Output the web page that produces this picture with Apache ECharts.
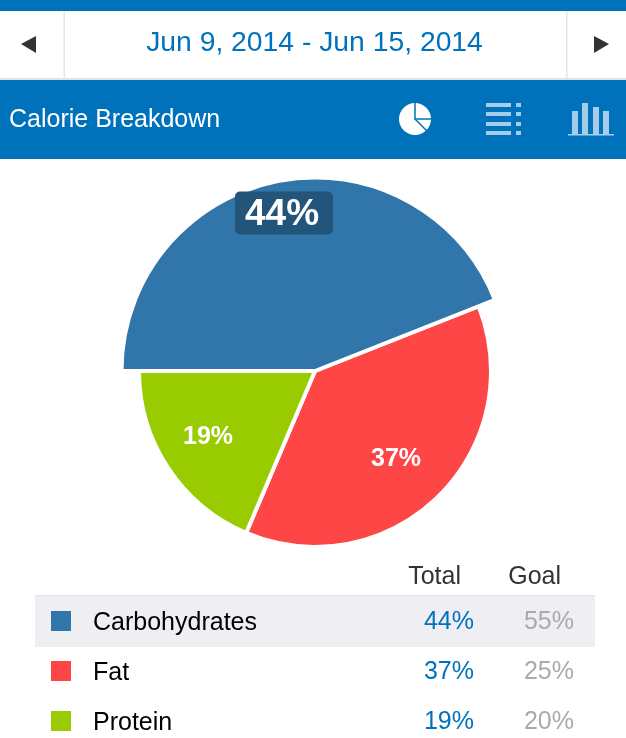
<!DOCTYPE html>
<html>
<head>
<meta charset="utf-8">
<style>
html, body { margin: 0; padding: 0; background: #fff; overflow: hidden; }
#main { width: 626px; height: 738px; }
</style>
<script src="https://cdn.jsdelivr.net/npm/echarts@6/dist/echarts.min.js"></script>
</head>
<body>
<div id="main"></div>
<script>
var categories = ['Carbohydrates', 'Fat', 'Protein'];
var totals = [44, 37, 19];
var goals = [55, 25, 20];
// slice sizes, labels above are the rounded ones
var shares = [44, 37.4, 18.6];
var dateRange = 'Jun 9, 2014 - Jun 15, 2014';
var panelTitle = 'Calorie Breakdown';

var colors = ['#3176aa', '#ff4646', '#99cc00'];
var BLUE = '#0072bc';
var ICON = '#a5cde9';
var FONT = '"Liberation Sans", Arial, sans-serif';

var myChart = echarts.init(document.getElementById('main'));

// label centres
var labelPos = [[284, 213], [396, 459], [208, 437]];

function pieData(show) {
    return categories.map(function (name, i) {
        var on = show.indexOf(i) >= 0;
        return {
            name: name,
            value: shares[i],
            itemStyle: on ? { color: colors[i], borderColor: '#fff', borderWidth: 4 }
                          : { color: 'transparent', borderWidth: 0 },
            label: on ? {
                show: true,
                formatter: '{d|' + totals[i] + '%}',
                rich: {
                    d: {
                        color: '#fff',
                        fontFamily: FONT,
                        fontWeight: 'bold',
                        fontSize: i == 0 ? 37 : 25
                    }
                },
                backgroundColor: i == 0 ? '#235479' : 'transparent',
                borderRadius: 5,
                padding: i == 0 ? [5, 14, 1, 10] : 0
            } : { show: false }
        };
    });
}

function layoutLabel(params) {
    var p = labelPos[params.dataIndex];
    return { x: p[0], y: p[1], align: 'center', verticalAlign: 'middle' };
}

// top chrome, icons and table cells
var graphics = [
    { type: 'rect', shape: { x: 0, y: 0, width: 626, height: 11 }, style: { fill: BLUE } },
    { type: 'rect', shape: { x: 0, y: 78, width: 626, height: 2 }, style: { fill: '#e2e2e2' } },
    { type: 'rect', shape: { x: 63.5, y: 11, width: 1.5, height: 67 }, style: { fill: '#e6e6e6' } },
    { type: 'rect', shape: { x: 566, y: 11, width: 1.5, height: 67 }, style: { fill: '#e6e6e6' } },
    { type: 'rect', shape: { x: 0, y: 80, width: 626, height: 79 }, style: { fill: BLUE } },
    { type: 'polygon', shape: { points: [[21, 44], [36, 36], [36, 53]] }, style: { fill: '#333' } },
    { type: 'polygon', shape: { points: [[609, 44], [594, 36], [594, 53]] }, style: { fill: '#333' } },
    { type: 'text', x: 314.5, y: 43, style: { text: dateRange, fill: BLUE, font: '28.3px ' + FONT, align: 'center', verticalAlign: 'middle' } },
    { type: 'text', x: 9, y: 120, style: { text: panelTitle, fill: '#fff', font: '25px ' + FONT, align: 'left', verticalAlign: 'middle' } },
    // pie icon
    { type: 'circle', shape: { cx: 415, cy: 119, r: 16 }, style: { fill: '#fff' } },
    { type: 'polyline', shape: { points: [[415, 102], [415, 119], [432, 119]] }, style: { stroke: BLUE, lineWidth: 1.5, fill: null } },
    { type: 'line', shape: { x1: 415, y1: 119, x2: 427, y2: 131 }, style: { stroke: BLUE, lineWidth: 1.5 } },
    // bars icon
    { type: 'rect', shape: { x: 568, y: 134, width: 46, height: 1.5 }, style: { fill: ICON } }
];

// list icon rows
[103, 112, 122, 131].forEach(function (y) {
    graphics.push({ type: 'rect', shape: { x: 486, y: y, width: 25, height: 4 }, style: { fill: ICON } });
    graphics.push({ type: 'rect', shape: { x: 516, y: y, width: 5, height: 4 }, style: { fill: ICON } });
});
[[572, 111], [582, 103], [593, 107], [603, 111]].forEach(function (b) {
    graphics.push({ type: 'rect', shape: { x: b[0], y: b[1], width: 6, height: 134 - b[1] }, style: { fill: ICON } });
});

// table
graphics.push({ type: 'rect', shape: { x: 35, y: 596, width: 560, height: 51 }, style: { fill: '#eeeef3' } });
graphics.push({ type: 'rect', shape: { x: 35, y: 595, width: 560, height: 1 }, style: { fill: '#e4e4e4' } });
graphics.push({ type: 'text', x: 461, y: 577, style: { text: 'Total', fill: '#333', font: '25px ' + FONT, align: 'right', verticalAlign: 'middle' } });
graphics.push({ type: 'text', x: 561, y: 577, style: { text: 'Goal', fill: '#333', font: '25px ' + FONT, align: 'right', verticalAlign: 'middle' } });
categories.forEach(function (name, i) {
    var y = 622 + i * 50;
    graphics.push({ type: 'text', x: 474, y: y, style: { text: totals[i] + '%', fill: BLUE, font: '25px ' + FONT, align: 'right', verticalAlign: 'middle' } });
    graphics.push({ type: 'text', x: 574, y: y, style: { text: goals[i] + '%', fill: '#aaa', font: '25px ' + FONT, align: 'right', verticalAlign: 'middle' } });
});

var option = {
    backgroundColor: '#fff',
    animation: false,
    legend: {
        orient: 'vertical',
        left: 51,
        top: 610.5,
        height: 127.5,
        padding: 0,
        itemWidth: 20,
        itemHeight: 20,
        itemGap: 25,
        selectedMode: false,
        icon: 'rect',
        z: 5,
        formatter: '{n|{name}}',
        textStyle: {
            color: '#000',
            fontFamily: FONT,
            fontSize: 25,
            padding: [0, 0, 0, 17],
            rich: {
                n: { color: '#000', fontFamily: FONT, fontSize: 25, padding: [4, 0, 0, 0] }
            }
        },
        data: categories.map(function (name, i) {
            return { name: name, itemStyle: { color: colors[i], borderWidth: 0 } };
        })
    },
    graphic: { elements: graphics },
    series: [
        {
            name: 'Fat and protein',
            type: 'pie',
            center: [315, 371],
            radius: [0, 176],
            startAngle: 180,
            silent: true,
            label: { position: 'inside' },
            labelLine: { show: false },
            labelLayout: layoutLabel,
            data: pieData([1, 2])
        },
        {
            name: 'Carbohydrates',
            type: 'pie',
            center: [315, 371],
            radius: [0, 193.5],
            startAngle: 180,
            silent: true,
            label: { position: 'inside' },
            labelLine: { show: false },
            labelLayout: layoutLabel,
            data: pieData([0])
        }
    ]
};

myChart.setOption(option);
</script>
</body>
</html>
